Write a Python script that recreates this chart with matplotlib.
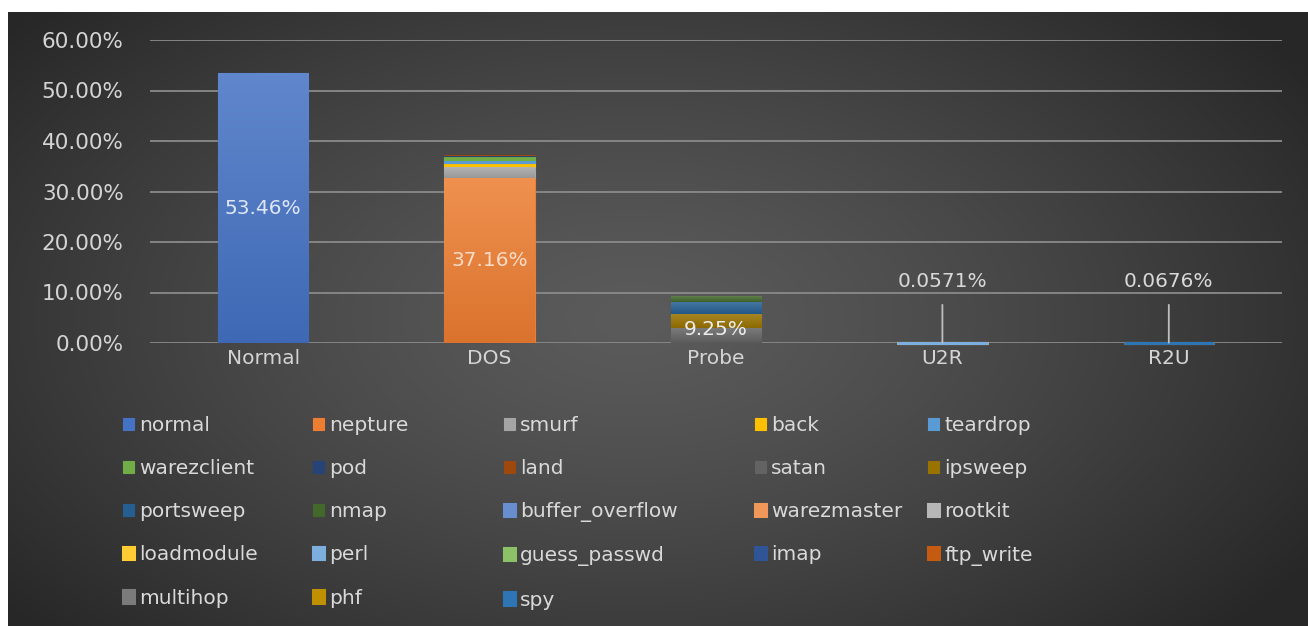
import numpy as np
import matplotlib.pyplot as plt
from matplotlib.colors import to_rgb

# traffic classes on the x axis
categories = ['Normal', 'DOS', 'Probe', 'U2R', 'R2U']

# attack types, in series order (legend order)
attacks = ['normal', 'nepture', 'smurf', 'back', 'teardrop',
           'warezclient', 'pod', 'land', 'satan', 'ipsweep',
           'portsweep', 'nmap', 'buffer_overflow', 'warezmaster', 'rootkit',
           'loadmodule', 'perl', 'guess_passwd', 'imap', 'ftp_write',
           'multihop', 'phf', 'spy']

# which class each attack type belongs to (index into categories)
attack_class = [0, 1, 1, 1, 1, 1, 1, 1, 2, 2, 2, 2,
                3, 3, 3, 3, 3, 4, 4, 4, 4, 4, 4]

# share of the records, in percent
share = [53.46, 32.716, 2.100, 0.759, 0.708, 0.707, 0.156, 0.014,
         2.884, 2.857, 2.324, 1.185,
         0.0238, 0.0159, 0.0079, 0.0071, 0.0024,
         0.0421, 0.0088, 0.0064, 0.0056, 0.0032, 0.0015]

colors = ['#4472C4', '#ED7D31', '#A5A5A5', '#FFC000', '#5B9BD5',
          '#70AD47', '#264478', '#9E480E', '#636363', '#997300',
          '#255E91', '#43682B', '#698ED0', '#F1975A', '#B7B7B7',
          '#FFCD33', '#7CAFDD', '#8CC168', '#2F5597', '#C55A11',
          '#7B7B7B', '#BF9000', '#2E75B6']

yticks = [0, 10, 20, 30, 40, 50, 60]

W, H = 1308, 626
fig = plt.figure(figsize=(W / 100, H / 100), dpi=100, facecolor='white')

# dark radial background
bg = fig.add_axes([8 / W, 0, 1 - 8 / W, 1 - 12 / H], zorder=-1)
yy, xx = np.mgrid[0:1:300j, 0:1:600j]
r = np.sqrt(((xx - 0.48) / 0.5) ** 2 + ((yy - 0.5) / 0.6) ** 2)
t = np.clip(r / 1.25, 0, 1) ** 1.3
level = (0x5b + (0x27 - 0x5b) * t) / 255
bg.imshow(np.dstack([level] * 3), aspect='auto', extent=[0, 1, 0, 1])
bg.set_axis_off()

ax = fig.add_axes([150 / W, 1 - 343 / H, 1132 / W, 303 / H])
ax.set_facecolor('none')

x = np.arange(len(categories))
bottoms = np.zeros(len(categories))
totals = np.zeros(len(categories))
for name, cls, val in zip(attacks, attack_class, share):
    totals[cls] += val

first_seg = {}
handles = []
for name, cls, val, col in zip(attacks, attack_class, share, colors):
    tiny = totals[cls] < 1
    b = ax.bar(x[cls], val, width=0.4, bottom=bottoms[cls], color=col,
               edgecolor=col, linewidth=2.2 if tiny else 0.8, label=name,
               zorder=3, clip_on=not tiny)
    handles.append(b)
    if cls not in first_seg:
        first_seg[cls] = (bottoms[cls], val)
    bottoms[cls] += val

    # vertical light-to-dark shading on the visible segments
    if val >= 1:
        p = b.patches[0]
        rgb = np.array(to_rgb(col))
        top = rgb + (1 - rgb) * 0.15
        bot = rgb * 0.92
        f = np.linspace(0, 1, 64)[:, None, None]
        grad = top * (1 - f) + bot * f
        im = ax.imshow(grad, extent=[p.get_x(), p.get_x() + p.get_width(),
                                     p.get_y(), p.get_y() + p.get_height()],
                       aspect='auto', origin='upper', zorder=3.5,
                       interpolation='bilinear')
        im.set_clip_path(p)

ax.set_xlim(-0.5, len(categories) - 0.5)
ax.set_ylim(0, 60)

# class totals as labels
label_cols = ['#dfe7f6', '#fcdcc6', '#ececec']
for i in range(len(categories)):
    if totals[i] >= 1:
        y0, h = first_seg[i]
        ax.text(x[i], y0 + h / 2 + (1.2 if i == 2 else 0),
                '{:.2f}%'.format(totals[i]), ha='center', va='center',
                fontsize=14.5, color=label_cols[i], zorder=5)
    else:
        ax.annotate('{:.4f}%'.format(totals[i]), xy=(x[i], totals[i]),
                    xytext=(x[i], 10.3), ha='center', va='bottom',
                    fontsize=14.5, color='#d9d9d9', zorder=5,
                    arrowprops=dict(arrowstyle='-', color='#bfbfbf',
                                    lw=1.3, shrinkA=8, shrinkB=0))

ax.set_yticks(yticks)
ax.set_yticklabels(['{:.2f}%'.format(v) for v in yticks])
ax.set_xticks(x)
ax.set_xticklabels(categories)
ax.tick_params(axis='both', length=0, labelsize=14.5, colors='#d4d4d4')
ax.tick_params(axis='y', pad=19, labelsize=15.5)
ax.tick_params(axis='x', pad=4)
ax.yaxis.grid(True, color='#8a8a8a', lw=1.3, zorder=0)
ax.set_axisbelow(True)
for s in ax.spines.values():
    s.set_visible(False)

# legend, laid out as five columns
col_x = [123, 313, 504, 755, 928]
for c in range(5):
    idx = list(range(c, len(attacks), 5))
    leg = fig.legend([handles[i] for i in idx], [attacks[i] for i in idx],
                     loc='upper left',
                     bbox_to_anchor=(col_x[c] / W, 1 - 416 / H),
                     frameon=False, fontsize=14.5, labelcolor='#d9d9d9',
                     handlelength=0.55, handleheight=0.55,
                     handletextpad=0.25, labelspacing=1.2,
                     borderpad=0, borderaxespad=0)

fig.savefig('out.png', dpi=100, facecolor='white')
